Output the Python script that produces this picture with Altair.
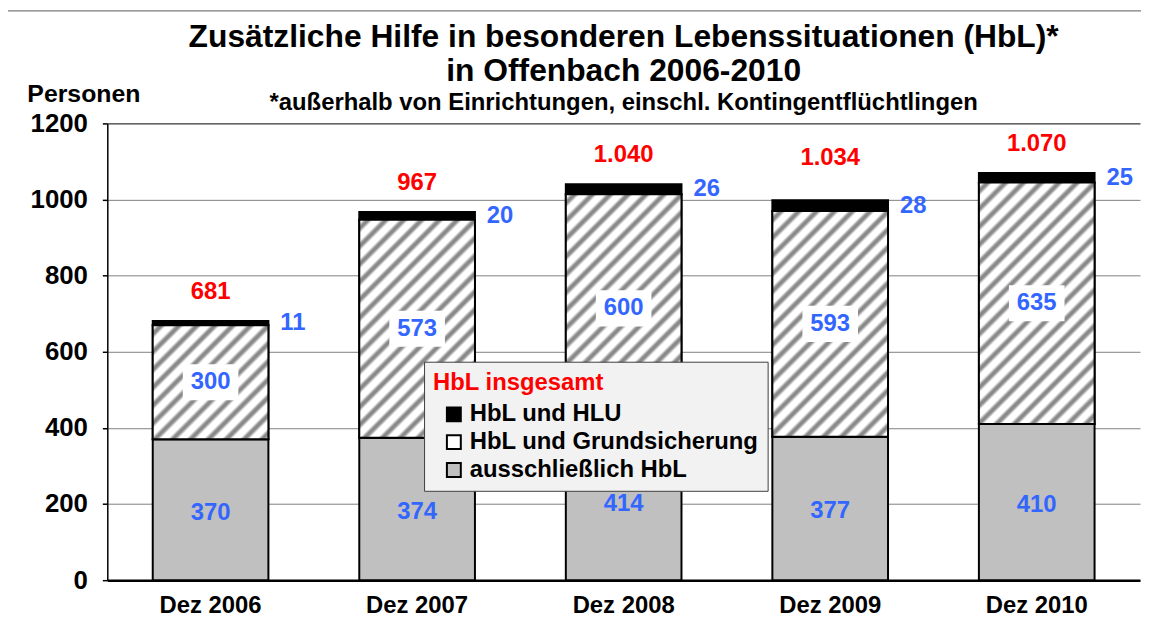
import altair as alt
import pandas as pd

# ---------------- data ----------------
years = ["Dez 2006", "Dez 2007", "Dez 2008", "Dez 2009", "Dez 2010"]
only_hbl = [370, 374, 414, 377, 410]            # ausschließlich HbL
grundsicherung = [300, 573, 600, 593, 635]      # HbL und Grundsicherung
hlu = [11, 20, 26, 28, 25]                      # HbL und HLU
total_values = [681, 967, 1040, 1034, 1070]     # HbL insgesamt (as printed)
total_labels = ["681", "967", "1.040", "1.034", "1.070"]
series_names = ["HbL und HLU", "HbL und Grundsicherung", "ausschließlich HbL"]
y_ticks = [0, 200, 400, 600, 800, 1000, 1200]

# ---------------- layout constants ----------------
PLOT_W, PLOT_H, Y_MAX = 1040, 460, 1200
P_INNER, P_OUTER = 0.44, 0.22
STEP = PLOT_W / (len(years) - P_INNER + 2 * P_OUTER)
BAND_W = STEP * (1 - P_INNER)
BLUE = "#3366ff"
RED = "#ff0000"
FONT = "Liberation Sans"

rows = []
for i, yr in enumerate(years):
    b1 = only_hbl[i]
    m1 = b1 + grundsicherung[i]
    t1 = m1 + hlu[i]
    rows.append(dict(year=yr, series="ausschließlich HbL", value=only_hbl[i], y0=0, y1=b1, mid=b1 / 2))
    rows.append(dict(year=yr, series="HbL und Grundsicherung", value=grundsicherung[i], y0=b1, y1=m1, mid=(b1 + m1) / 2))
    rows.append(dict(year=yr, series="HbL und HLU", value=hlu[i], y0=m1, y1=t1, mid=(m1 + t1) / 2))
df = pd.DataFrame(rows)
totals_df = pd.DataFrame({"year": years, "total": total_values, "label": total_labels})


def hatch(h_units, period=18.0, gray="#8a8a8a"):
    """Diagonal stripe fill built from a linear gradient over the bar's box."""
    w = BAND_W
    h = h_units * PLOT_H / Y_MAX
    total = w + h
    k = (w + h) / (w * w + h * h)
    pattern = [(0.0, "#ffffff"), (0.2, "#ffffff"), (0.42, gray), (0.58, gray), (0.8, "#ffffff")]
    stops = []
    j = 0
    while j * period < total:
        for f, c in pattern:
            off = (j + f) * period / total
            if off <= 1:
                stops.append({"offset": round(off, 5), "color": c})
        j += 1
    stops.append({"offset": 1, "color": "#ffffff"})
    return {"gradient": "linear", "x1": 0, "y1": 0, "x2": k * w, "y2": k * h, "stops": stops}


xs = alt.X("year:N", sort=years, title=None,
           scale=alt.Scale(paddingInner=P_INNER, paddingOuter=P_OUTER))
ys = alt.Scale(domain=[0, Y_MAX], nice=False)
yaxis = alt.Axis(values=y_ticks, format="d", title="Personen")


def Y(field):
    return alt.Y(field, scale=ys, axis=yaxis)


base = alt.Chart(df)

bars = base.mark_bar(stroke="black", strokeWidth=2).encode(
    x=xs,
    y=Y("y1:Q"),
    y2="y0:Q",
    fill=alt.Fill("series:N",
                  scale=alt.Scale(domain=series_names, range=["#000000", "#ffffff", "#c0c0c0"]),
                  legend=alt.Legend(title="HbL insgesamt")),
)

hatch_layers = []
for i, yr in enumerate(years):
    hatch_layers.append(
        base.transform_filter(
            (alt.datum.year == yr) & (alt.datum.series == "HbL und Grundsicherung")
        ).mark_bar(fill=hatch(grundsicherung[i]), stroke="black", strokeWidth=2).encode(
            x=xs, y=Y("y1:Q"), y2="y0:Q"
        )
    )

red_labels = alt.Chart(totals_df).mark_text(
    color=RED, fontSize=24, fontWeight="bold", dy=-29
).encode(x=xs, y=Y("total:Q"), text="label:N")

top_labels = base.transform_filter(alt.datum.series == "HbL und HLU").mark_text(
    color=BLUE, fontSize=24, fontWeight="bold", align="left", dx=BAND_W / 2 + 12
).encode(x=xs, y=Y("mid:Q"), text="value:Q")

mid_boxes = base.transform_filter(alt.datum.series == "HbL und Grundsicherung").mark_point(
    shape="M -1 -0.65 L 1 -0.65 L 1 0.65 L -1 0.65 Z", size=56 * 56,
    filled=True, color="white", opacity=1, strokeWidth=0
).encode(x=xs, y=Y("mid:Q"))

mid_labels = base.transform_filter(alt.datum.series == "HbL und Grundsicherung").mark_text(
    color=BLUE, fontSize=24, fontWeight="bold"
).encode(x=xs, y=Y("mid:Q"), text="value:Q")

bottom_labels = base.transform_filter(alt.datum.series == "ausschließlich HbL").mark_text(
    color=BLUE, fontSize=24, fontWeight="bold", dy=3
).encode(x=xs, y=Y("mid:Q"), text="value:Q")

frame = alt.Chart(totals_df).mark_rect(
    fillOpacity=0, stroke="#9a9a9a", strokeWidth=1
).encode(
    x=alt.value(-100.5), x2=alt.value(PLOT_W + 20),
    y=alt.value(-113.5), y2=alt.value(PLOT_H + 80)
)

chart = alt.layer(
    frame, bars, *hatch_layers, top_labels, mid_boxes, mid_labels, bottom_labels, red_labels
).properties(
    width=PLOT_W, height=PLOT_H,
    autosize=alt.AutoSizeParams(type="none"),
    padding={"left": 100, "top": 114, "right": 1, "bottom": 54},
    title=alt.TitleParams(
        text=["Zusätzliche Hilfe in besonderen Lebenssituationen (HbL)*", "in Offenbach 2006-2010"],
        subtitle="*außerhalb von Einrichtungen, einschl. Kontingentflüchtlingen",
        anchor="middle", fontSize=32, fontWeight="bold", lineHeight=34, color="black",
        subtitleFontSize=24, subtitleFontWeight="bold", subtitleColor="black",
        subtitlePadding=4, offset=-107, font=FONT, subtitleFont=FONT,
    ),
).configure(
    font=FONT, background="white"
).configure_view(
    stroke="transparent", strokeWidth=0
).configure_axisX(
    labelFontSize=24, labelFontWeight="bold", labelColor="black", labelAngle=0,
    labelPadding=14, ticks=False, domainColor="black", domainWidth=2.5, grid=False,
    labelFont=FONT,
).configure_axisY(
    labelFontSize=26, labelFontWeight="bold", labelColor="black", labelPadding=15,
    labelFont=FONT,
    tickSize=5, tickColor="black", tickWidth=1.5, domainColor="black", domainWidth=1.5,
    grid=True, gridWidth=1,
    gridColor={"condition": {"test": "datum.value === 1200", "value": "black"}, "value": "#808080"},
    titleAngle=0, titleX=-81, titleY=-30, titleAlign="left", titleBaseline="middle",
    titleFontSize=25, titleFontWeight="bold", titleColor="black", titleFont=FONT,
).configure_legend(
    orient="none", legendX=319, legendY=240,
    fillColor="#f2f2f2", strokeColor="#404040", padding=9,
    titleColor=RED, titleFontSize=24, titleFontWeight="bold", titleFont=FONT, titlePadding=8,
    labelFontSize=24, labelFontWeight="bold", labelColor="black", labelFont=FONT,
    labelLimit=400, labelOffset=4,
    symbolType="square", symbolSize=196, symbolStrokeColor="black", symbolStrokeWidth=2,
    rowPadding=4, symbolOffset=9,
)

chart.save("out.html", embed_options={"renderer": "svg", "actions": False})
